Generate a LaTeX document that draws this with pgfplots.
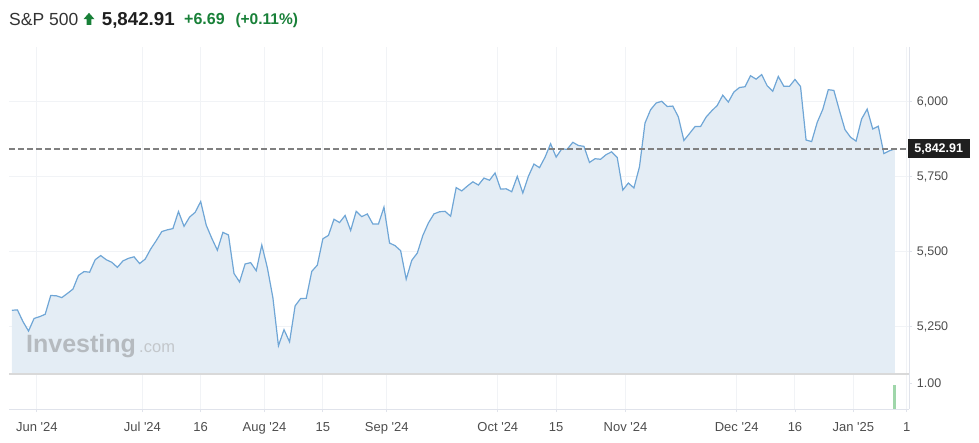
\documentclass[border=0pt]{standalone}
\usepackage{pgfplots}
\pgfplotsset{compat=1.18}
\usepackage{pgfplotstable}
\usepackage{fontspec}
\setmainfont{Liberation Sans}
\newfontfamily\lab{Liberation Sans}

\definecolor{linec}{HTML}{6FA6D6}
\definecolor{area}{HTML}{E4EDF5}
\definecolor{gridc}{HTML}{F1F3F6}
\definecolor{axisc}{HTML}{E0E3EB}
\definecolor{sepc}{HTML}{D9D9D9}
\definecolor{labc}{HTML}{4D4D4D}
\definecolor{upg}{HTML}{188038}
\definecolor{volg}{HTML}{9FD6AA}
\definecolor{wm}{HTML}{B5BABF}
\definecolor{wm2}{HTML}{C3C7CB}

% daily closes, trading-day index 0 = 24 May 2024 ... 159 = 14 Jan 2025
\pgfplotstableread{
i v
0 5304.72
1 5306.04
2 5266.95
3 5235.48
4 5277.51
5 5283.40
6 5291.34
7 5354.03
8 5352.96
9 5346.99
10 5360.79
11 5375.32
12 5421.03
13 5433.74
14 5431.60
15 5473.23
16 5487.03
17 5473.17
18 5464.62
19 5447.87
20 5469.30
21 5477.90
22 5482.87
23 5460.48
24 5475.09
25 5509.01
26 5537.02
27 5567.19
28 5572.85
29 5576.98
30 5633.91
31 5584.54
32 5615.35
33 5631.22
34 5667.20
35 5588.27
36 5544.59
37 5505.00
38 5564.41
39 5555.74
40 5427.13
41 5399.22
42 5459.10
43 5463.54
44 5436.44
45 5522.30
46 5446.68
47 5346.56
48 5186.33
49 5240.03
50 5199.50
51 5319.31
52 5344.16
53 5344.39
54 5434.43
55 5455.21
56 5543.22
57 5554.25
58 5608.25
59 5597.12
60 5620.85
61 5570.64
62 5634.61
63 5616.84
64 5625.80
65 5592.18
66 5591.96
67 5648.40
68 5528.93
69 5520.07
70 5503.41
71 5408.42
72 5471.05
73 5495.52
74 5554.13
75 5595.76
76 5626.02
77 5633.09
78 5634.58
79 5618.26
80 5713.64
81 5702.55
82 5718.57
83 5732.93
84 5722.26
85 5745.37
86 5738.17
87 5762.48
88 5708.75
89 5709.54
90 5699.94
91 5751.07
92 5695.94
93 5751.13
94 5792.04
95 5780.05
96 5815.03
97 5859.85
98 5815.26
99 5842.47
100 5841.47
101 5864.67
102 5853.98
103 5851.20
104 5797.42
105 5809.86
106 5808.12
107 5823.52
108 5832.92
109 5813.67
110 5705.45
111 5728.80
112 5712.69
113 5782.76
114 5929.04
115 5973.10
116 5995.54
117 6001.35
118 5983.99
119 5985.38
120 5949.17
121 5870.62
122 5893.62
123 5916.98
124 5917.14
125 5948.71
126 5969.34
127 5987.37
128 6021.63
129 5998.74
130 6032.38
131 6047.15
132 6049.88
133 6086.49
134 6075.11
135 6090.27
136 6052.85
137 6034.91
138 6084.19
139 6051.25
140 6051.09
141 6074.08
142 6050.61
143 5872.16
144 5867.08
145 5930.85
146 5974.07
147 6040.04
148 6037.59
149 5970.84
150 5906.94
151 5881.63
152 5868.55
153 5942.47
154 5975.38
155 5909.03
156 5918.25
157 5827.04
158 5836.22
159 5842.91
}\spx

% pixel position in the reference -> picture coordinates
\newcommand\px[2]{({(#1-9)*1bp},{(374.3-#2)*1bp})}

\pgfplotsset{
  base/.style={
    scale only axis, width=900.3bp,
    xmin=-0.515, xmax=161.585,
    axis line style={draw=none},
    xtick={4.5,23.5,34,45.5,56,67.5,87.5,98,110.5,130.5,141,151.5,161.1},
    xmajorgrids=true,
    grid style={gridc, line width=1bp},
    ytick pos=right, yticklabel pos=right,
    tick align=outside, major tick length=3bp,
    tick style={axisc, line width=0.8bp},
    yticklabel style={anchor=west, inner sep=0pt, xshift=4.4bp, text=labc,
      font=\lab\fontsize{12.5bp}{14bp}\selectfont},
  }
}

\begin{document}
\begin{tikzpicture}
\path[use as bounding box] (-9bp,-68.7bp) rectangle (970bp,374.3bp);

\begin{axis}[base, name=main, at={(0,0)}, anchor=south west,
  height=327.6bp,
  ymin=5091.3, ymax=6183.3,
  xticklabels={}, xtick style={draw=none},
  ytick={5250,5500,5750,6000},
  yticklabels={{5,250},{5,500},{5,750},{6,000}},
  ymajorgrids=true,
]
\addplot[draw=none, fill=area] table[x=i, y=v] {\spx} \closedcycle;
\node[anchor=base west, inner sep=0pt, text=wm,
  font=\lab\bfseries\fontsize{25bp}{28bp}\selectfont] at (axis cs:2.55,5164.8) {Investing};
\node[anchor=base west, inner sep=0pt, text=wm2,
  font=\lab\fontsize{16.5bp}{18bp}\selectfont] at (axis cs:22.9,5164.8) {.com};
\addplot[linec, line width=1.2bp] table[x=i, y=v] {\spx};
\addplot[color=black!50, line width=1.5bp, dash pattern=on 5.5bp off 3.5bp]
  coordinates {(-0.515,5842.91) (161.585,5842.91)};
\end{axis}

\begin{axis}[base, name=low, at={(main.south west)}, anchor=north west,
  height=35bp,
  ymin=0, ymax=1.346,
  ytick={1}, yticklabels={1.00},
  xtick pos=bottom,
  xticklabels={Jun '24,Jul '24,16,Aug '24,15,Sep '24,Oct '24,15,Nov '24,Dec '24,16,Jan '25,1},
  xticklabel style={anchor=north, inner sep=0pt, yshift=-9.4bp, text=labc,
    text height=9.3bp, text depth=0pt,
    font=\lab\fontsize{13bp}{15bp}\selectfont},
]
\addplot[ybar, bar width=3bp, fill=volg, draw=none] coordinates {(159,0.93)};
\end{axis}

% panel frame
\draw[sepc, line width=2.2bp] (main.south west) -- (main.south east);
\draw[axisc, line width=1bp] (main.north east) -- (low.south east);
\draw[axisc, line width=1bp] (low.south west) -- (low.south east);

% last price tag
\node[fill=black!88, text=white, inner sep=0pt, minimum width=61.5bp, minimum height=19bp,
  font=\lab\bfseries\fontsize{12.5bp}{14bp}\selectfont] at \px{938.75}{148.7} {5,842.91};

% header
\node[anchor=base west, inner sep=0pt, text=black!80,
  font=\lab\fontsize{17.5bp}{20bp}\selectfont] at \px{9}{25} {S\&P 500};
\fill[upg] \px{83.5}{19.2} -- \px{89}{12.8} -- \px{94.5}{19.2} -- \px{91.3}{19.2}
  -- \px{91.3}{25} -- \px{86.7}{25} -- \px{86.7}{19.2} -- cycle;
\node[anchor=base west, inner sep=0pt, text=black!88,
  font=\lab\bfseries\fontsize{18.7bp}{21bp}\selectfont] at \px{101.7}{25} {5,842.91};
\node[anchor=base west, inner sep=0pt, text=upg,
  font=\lab\bfseries\fontsize{16bp}{18bp}\selectfont] at \px{184}{24.5} {+6.69};
\node[anchor=base west, inner sep=0pt, text=upg,
  font=\lab\bfseries\fontsize{15.5bp}{18bp}\selectfont] at \px{235.3}{24.5} {(+0.11\%)};
\end{tikzpicture}
\end{document}
